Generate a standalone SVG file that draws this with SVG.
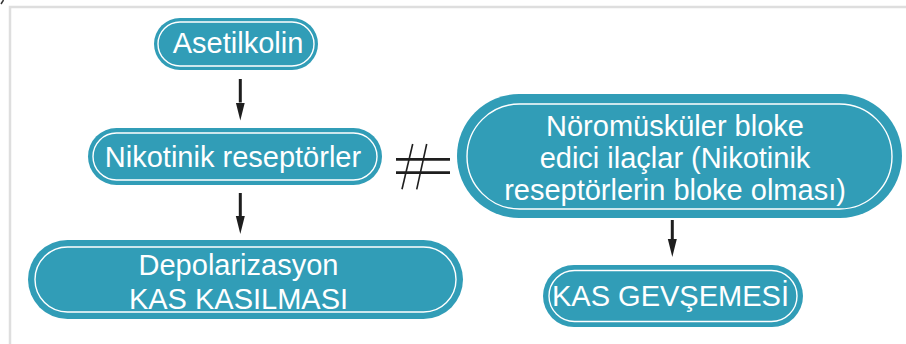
<svg xmlns="http://www.w3.org/2000/svg" width="906" height="344" viewBox="0 0 906 344">
<defs>
<style>
.box{fill:#319db7}
.in{fill:none;stroke:#ffffff;stroke-width:1.4}
.t{font-family:"Liberation Sans",Arial,sans-serif;font-size:29px;fill:#ffffff;text-anchor:middle}
.c{stroke:#1e1e1e;stroke-width:3;fill:none}
</style>
<marker id="ah" markerWidth="18" markerHeight="10" refX="0" refY="5" orient="auto" markerUnits="userSpaceOnUse" viewBox="0 0 18 10">
<path d="M0,0.5 L18,5 L0,9.5 Z" fill="#1e1e1e"/>
</marker>
</defs>
<rect x="0" y="0" width="906" height="344" fill="#ffffff"/>
<rect x="10" y="7" width="920" height="360" fill="none" stroke="#dedede" stroke-width="2.5"/>
<path d="M3.5,0 L1,4" stroke="#333" stroke-width="1.5"/>
<g id="connectors">
<line class="c" x1="240.3" y1="79" x2="240.3" y2="102.5" marker-end="url(#ah)"/>
<line class="c" x1="240.3" y1="193" x2="240.3" y2="216" marker-end="url(#ah)"/>
<line class="c" x1="672.3" y1="220" x2="672.3" y2="239" marker-end="url(#ah)"/>
<g id="not-equal">
<line x1="396" y1="159.3" x2="450" y2="159.3" stroke="#1e1e1e" stroke-width="2.8"/>
<line x1="396" y1="172.7" x2="450" y2="172.7" stroke="#1e1e1e" stroke-width="2.8"/>
<line x1="412.7" y1="144" x2="402" y2="189.3" stroke="#1e1e1e" stroke-width="1.6"/>
<line x1="426.7" y1="144" x2="416.7" y2="189.3" stroke="#1e1e1e" stroke-width="1.6"/>
</g>
</g>
<g id="asetilkolin">
<rect class="box" x="154" y="18" width="164" height="52" rx="26"/>
<rect class="in" x="158" y="22" width="156" height="44" rx="22"/>
<text class="t" x="238" y="52.5">Asetilkolin</text>
</g>
<g id="nikotinik">
<rect class="box" x="88" y="128" width="294" height="57" rx="28.5"/>
<rect class="in" x="93" y="133" width="284" height="47" rx="23.5"/>
<text class="t" x="233" y="167">Nikotinik reseptörler</text>
</g>
<g id="depolarizasyon">
<rect class="box" x="28" y="240" width="435" height="79" rx="39.5"/>
<rect class="in" x="35" y="247" width="421" height="65" rx="32.5"/>
<text class="t" x="238.5" y="275">Depolarizasyon</text>
<text class="t" x="238.5" y="309">KAS KASILMASI</text>
</g>
<g id="noromuskuler">
<rect class="box" x="457" y="94" width="445" height="124" rx="62"/>
<rect class="in" x="467" y="104" width="425" height="105" rx="52.5"/>
<text class="t" x="675" y="136">Nöromüsküler bloke</text>
<text class="t" x="675" y="167.5">edici ilaçlar (Nikotinik</text>
<text class="t" x="675" y="199.5">reseptörlerin bloke olması)</text>
</g>
<g id="kas-gevsemesi">
<rect class="box" x="543" y="265" width="260" height="62" rx="31"/>
<rect class="in" x="549" y="270.5" width="248" height="51" rx="25.5"/>
<text class="t" x="670.5" y="306">KAS GEVŞEMESİ</text>
</g>
</svg>
